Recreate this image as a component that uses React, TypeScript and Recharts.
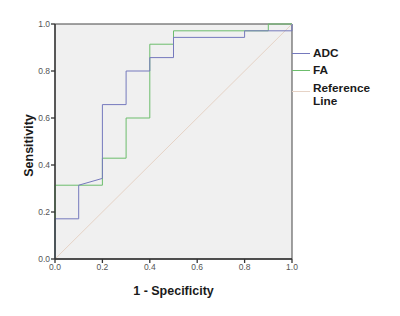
import React from 'react';
import {
  LineChart,
  Line,
  XAxis,
  YAxis,
  ReferenceArea,
  Label,
} from 'recharts';

// ROC coordinates (1 - specificity, sensitivity)
const adcFpr = [0, 0, 0.1, 0.1, 0.2, 0.2, 0.3, 0.3, 0.4, 0.4, 0.5, 0.5, 0.8, 0.8, 1.0, 1.0];
const adcTpr = [0, 0.171, 0.171, 0.314, 0.343, 0.657, 0.657, 0.8, 0.8, 0.857, 0.857, 0.943, 0.943, 0.971, 0.971, 1.0];

const faFpr = [0, 0, 0.2, 0.2, 0.3, 0.3, 0.4, 0.4, 0.5, 0.5, 0.9, 0.9, 1.0];
const faTpr = [0, 0.314, 0.314, 0.429, 0.429, 0.6, 0.6, 0.914, 0.914, 0.971, 0.971, 1.0, 1.0];

const refFpr = [0, 1];
const refTpr = [0, 1];

const ticks = [0, 0.2, 0.4, 0.6, 0.8, 1.0];

const SERIES = [
  { name: 'ADC', lines: ['ADC'], color: '#7579bd', top: 47 },
  { name: 'FA', lines: ['FA'], color: '#6cbd6c', top: 64 },
  { name: 'Reference Line', lines: ['Reference', 'Line'], color: '#e6d3c6', top: 82 },
];

const toPoints = (xs: number[], ys: number[]) => xs.map((x, i) => ({ x, y: ys[i] }));

const FONT = '"Liberation Sans", Arial, sans-serif';

// legend sits right of the plot box, like the SPSS output
const LegendBox = () => (
  <>
    {SERIES.map((s) => (
      <div key={s.name} style={{ position: 'absolute', left: 292, top: s.top, display: 'flex', alignItems: 'flex-start' }}>
        <div style={{ width: 18, height: 1, background: s.color, marginTop: s.lines.length > 1 ? 9 : 6, marginRight: 3 }} />
        <div style={{ fontFamily: FONT, fontWeight: 700, fontSize: 11.8, color: '#1a1a1a', lineHeight: '13px' }}>
          {s.lines.map((t) => (
            <div key={t}>{t}</div>
          ))}
        </div>
      </div>
    ))}
  </>
);

export default function App() {
  const tickStyle = { fontSize: 8.5, fill: '#555', fontFamily: FONT };
  return (
    <div style={{ position: 'absolute', left: 0, top: 0, width: 400, height: 316, background: '#fff' }}>
      <LineChart width={400} height={316} margin={{ top: 24, right: 108, bottom: 0, left: 0 }}>
        <ReferenceArea x1={0} x2={1} y1={0} y2={1} fill="#f0f0f0" fillOpacity={1} stroke="#444" strokeWidth={1} />
        <XAxis
          type="number"
          dataKey="x"
          domain={[0, 1]}
          ticks={ticks}
          tickFormatter={(v: number) => v.toFixed(1)}
          height={57}
          tick={tickStyle}
          tickSize={4}
          tickMargin={1}
          stroke="#333"
          strokeWidth={1.3}
        >
          <Label
            value="1 - Specificity"
            position="center"
            dy={3}
            style={{ fontFamily: FONT, fontWeight: 700, fontSize: 12.5, fill: '#1a1a1a' }}
          />
        </XAxis>
        <YAxis
          type="number"
          dataKey="y"
          domain={[0, 1]}
          ticks={ticks}
          tickFormatter={(v: number) => v.toFixed(1)}
          width={55}
          tick={tickStyle}
          tickSize={4}
          tickMargin={1}
          stroke="#333"
          strokeWidth={1.3}
        >
          <Label
            value="Sensitivity"
            angle={-90}
            position="center"
            dx={1}
            dy={4}
            style={{ fontFamily: FONT, fontWeight: 700, fontSize: 12.5, fill: '#1a1a1a', textAnchor: 'middle' }}
          />
        </YAxis>
        <Line
          data={toPoints(refFpr, refTpr)}
          dataKey="y"
          name="Reference Line"
          stroke={SERIES[2].color}
          strokeWidth={1}
          dot={false}
          type="linear"
          isAnimationActive={false}
        />
        <Line
          data={toPoints(faFpr, faTpr)}
          dataKey="y"
          name="FA"
          stroke={SERIES[1].color}
          strokeWidth={1}
          dot={false}
          type="linear"
          isAnimationActive={false}
        />
        <Line
          data={toPoints(adcFpr, adcTpr)}
          dataKey="y"
          name="ADC"
          stroke={SERIES[0].color}
          strokeWidth={1}
          dot={false}
          type="linear"
          isAnimationActive={false}
        />
      </LineChart>
      <LegendBox />
    </div>
  );
}
